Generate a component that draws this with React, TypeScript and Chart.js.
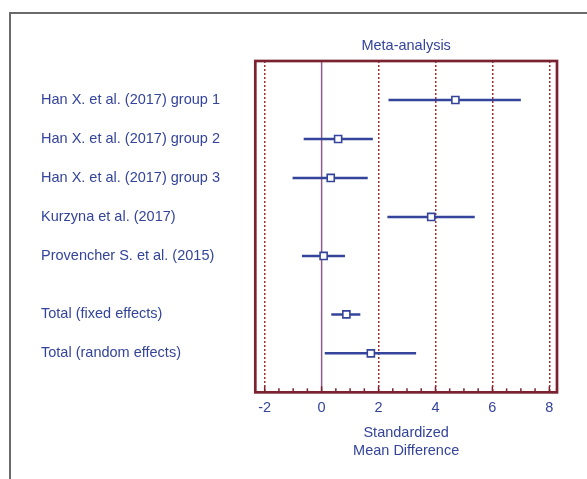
import React, { useEffect, useRef } from "react";
import { Chart, registerables } from "chart.js";

Chart.register(...registerables);

const studies = [
  "Han X. et al. (2017) group 1",
  "Han X. et al. (2017) group 2",
  "Han X. et al. (2017) group 3",
  "Kurzyna et al. (2017)",
  "Provencher S. et al. (2015)",
  "Total (fixed effects)",
  "Total (random effects)",
];
const rowPositions = [0, 1, 2, 3, 4, 5.5, 6.5];
const estimates = [4.7, 0.58, 0.32, 3.85, 0.07, 0.87, 1.73];
const lowerCI = [2.35, -0.63, -1.02, 2.31, -0.69, 0.34, 0.11];
const upperCI = [7.0, 1.8, 1.62, 5.38, 0.82, 1.36, 3.32];
const xTickValues = [-2, 0, 2, 4, 6, 8];
const chartTitle = "Meta-analysis";
const xAxisTitle = ["Standardized", "Mean Difference"];

const FONT = "'Liberation Sans', Arial, sans-serif";
const BLUE = "#34449a";
const FRAME = "#7a2230";
const GRID = "#a23030";
const ZERO = "#8c5a8c";

const framePlugin = {
  id: "frame",
  afterDraw(chart: any) {
    const { ctx, chartArea: a, scales } = chart;
    const xs = scales.x;
    ctx.save();
    ctx.strokeStyle = FRAME;
    ctx.lineWidth = 1.5;
    for (let k = 0; k <= 20; k++) {
      const v = -2 + k * 0.5;
      const px = xs.getPixelForValue(v);
      const len = k % 4 === 0 ? 6 : 4;
      ctx.beginPath();
      ctx.moveTo(px, a.bottom);
      ctx.lineTo(px, a.bottom - len);
      ctx.stroke();
    }
    ctx.lineWidth = 2.7;
    ctx.strokeRect(a.left, a.top, a.right - a.left, a.bottom - a.top);
    ctx.restore();
  },
};

export default function App() {
  const ref = useRef<HTMLCanvasElement>(null);

  useEffect(() => {
    if (!ref.current) return;
    const datasets: any[] = [];
    datasets.push({
      label: "zero",
      data: [
        { x: 0, y: -1 },
        { x: 0, y: 7.5 },
      ],
      showLine: true,
      borderColor: ZERO,
      borderWidth: 1.5,
      pointRadius: 0,
      order: 3,
    });
    rowPositions.forEach((r, i) => {
      datasets.push({
        label: studies[i],
        data: [
          { x: lowerCI[i], y: r },
          { x: upperCI[i], y: r },
        ],
        showLine: true,
        borderColor: BLUE,
        borderWidth: 2.5,
        pointRadius: 0,
        order: 2,
      });
    });
    datasets.push({
      label: "estimate",
      data: rowPositions.map((r, i) => ({ x: estimates[i], y: r })),
      showLine: false,
      pointStyle: "rect",
      pointRadius: 5,
      backgroundColor: "#ffffff",
      borderColor: BLUE,
      borderWidth: 1.6,
      order: 1,
    });

    const chart = new Chart(ref.current, {
      type: "scatter",
      data: { datasets },
      plugins: [framePlugin],
      options: {
        animation: false,
        responsive: false,
        layout: { padding: { left: 41, right: 30, top: 37.3, bottom: 19 } },
        plugins: { legend: { display: false }, tooltip: { enabled: false } },
        scales: {
          x: {
            type: "linear",
            position: "bottom",
            min: -2.33,
            max: 8.27,
            afterBuildTicks: (s: any) => {
              s.ticks = xTickValues.map((v) => ({ value: v }));
            },
            ticks: {
              color: BLUE,
              font: { family: FONT, size: 14.5 },
              padding: 7,
              autoSkip: false,
              maxRotation: 0,
            },
            grid: {
              color: (c: any) =>
                c.tick && c.tick.value === 0 ? "rgba(0,0,0,0)" : GRID,
              lineWidth: 1.5,
              drawTicks: false,
            },
            border: { display: false, dash: [2, 2] },
            title: {
              display: true,
              text: xAxisTitle,
              color: BLUE,
              font: { family: FONT, size: 14.5, lineHeight: 1.25 },
              padding: { top: 0, bottom: 0 },
            },
          },
          x2: {
            type: "linear",
            position: "top",
            min: -2.33,
            max: 8.27,
            ticks: { display: false },
            grid: { display: false, drawTicks: false },
            border: { display: false },
            title: {
              display: true,
              text: chartTitle,
              color: BLUE,
              font: { family: FONT, size: 14.5, lineHeight: 1.2 },
              padding: { top: 0, bottom: 6.3 },
            },
          },
          y: {
            type: "linear",
            min: -1,
            max: 7.5,
            reverse: true,
            afterBuildTicks: (s: any) => {
              s.ticks = rowPositions.map((v) => ({ value: v }));
            },
            afterFit: (s: any) => {
              s.width = 214.3;
            },
            ticks: {
              callback: (_v: any, i: number) => studies[i],
              crossAlign: "far",
              color: BLUE,
              font: { family: FONT, size: 14.5 },
              autoSkip: false,
            },
            grid: { display: false, drawTicks: false },
            border: { display: false },
          },
        },
      } as any,
    });
    return () => chart.destroy();
  }, []);

  return (
    <div
      style={{
        position: "fixed",
        left: 0,
        top: 0,
        width: 587,
        height: 479,
        overflow: "hidden",
        background: "#ffffff",
      }}
    >
      <div
        style={{
          position: "absolute",
          left: 9,
          top: 12,
          width: 700,
          height: 600,
          borderLeft: "2px solid #6a6a6a",
          borderTop: "2px solid #6a6a6a",
        }}
      />
      <canvas
        ref={ref}
        width={587}
        height={479}
        style={{ position: "absolute", left: 0, top: 0, display: "block" }}
      />
    </div>
  );
}
